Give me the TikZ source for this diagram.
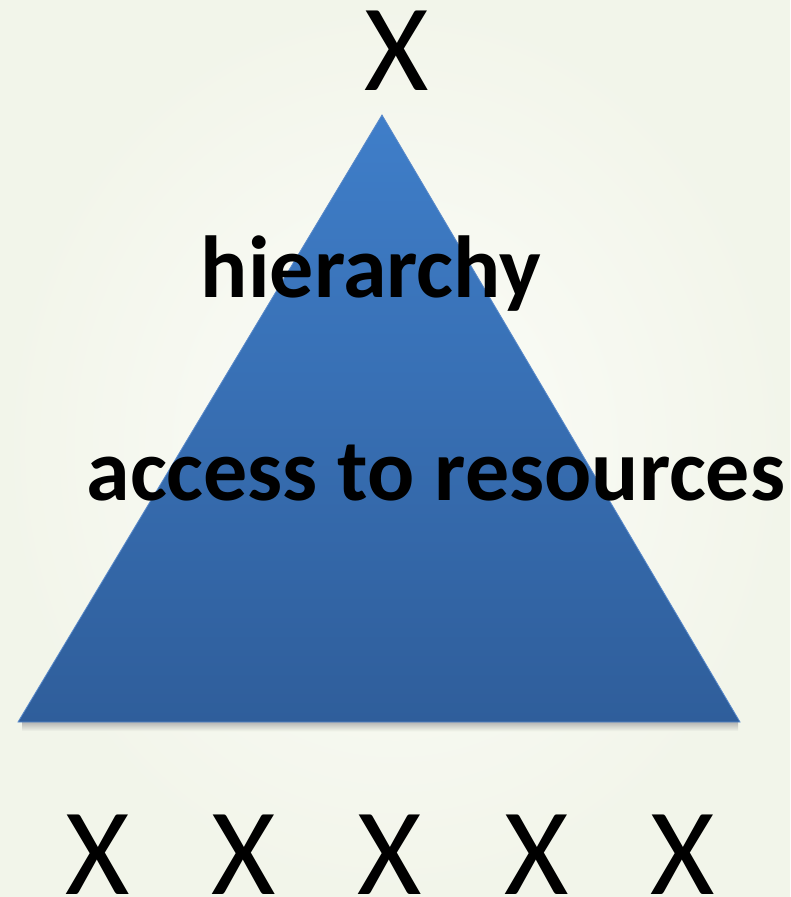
\documentclass[tikz,border=0pt]{standalone}
\usepackage{fontspec}
\setmainfont{Carlito}
\usetikzlibrary{positioning}

\definecolor{paper}{HTML}{FCFDF9}
\definecolor{paperedge}{HTML}{F2F5EA}
\definecolor{pyrtop}{HTML}{3F7EC9}
\definecolor{pyrbottom}{HTML}{2F5E9B}
\definecolor{pyredge}{HTML}{5A8ACB}

\tikzset{
  mark x/.style={inner sep=0pt, anchor=base, font=\fontsize{124}{130}\selectfont},
  layer label/.style={inner sep=0pt, anchor=base, font=\bfseries\fontsize{88}{92}\selectfont}
}

\begin{document}
\begin{tikzpicture}[x=1pt,y=-1pt]

        % page background
        \useasboundingbox (0,0) rectangle (790,897);
        \shade[inner color=paper, outer color=paperedge] (0,0) rectangle (790,897);

        % the pyramid
        \coordinate (apex)  at (382,115);
        \coordinate (left)  at (18,722);
        \coordinate (right) at (740,722);

        % soft shadow under the base
        \shade[top color=black!35, bottom color=paperedge, opacity=0.8]
          (22,722) rectangle (738,731);

        \shade[top color=pyrtop, bottom color=pyrbottom, draw=pyredge, line width=0.8pt]
          (apex) -- (right) -- (left) -- cycle;

        % labels
        \node[layer label] (hierarchy) at (371,297) {hierarchy};
        \node[layer label] (access)    at (436,500) {access to resources};

        % the one on top and the many below
        \node[mark x] (top) at (397,90) {X};
        \foreach \i/\xpos in {1/98,2/244,3/390,4/537,5/683}
          \node[mark x] (base\i) at (\xpos,894) {X};

      \end{tikzpicture}
\end{document}
